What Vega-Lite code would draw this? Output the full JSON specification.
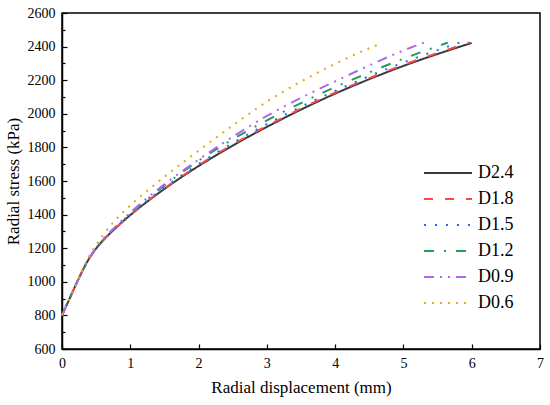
{
  "$schema": "https://vega.github.io/schema/vega-lite/v6.json",
  "width": 478,
  "height": 336,
  "autosize": {"type": "none"},
  "padding": {"left": 62, "top": 13, "right": 10, "bottom": 56},
  "background": "white",
  "config": {
    "view": {"stroke": "#000000", "strokeWidth": 1.5},
    "font": "Liberation Serif",
    "axis": {
      "grid": false,
      "domainColor": "#000000",
      "domainWidth": 1.5,
      "tickColor": "#000000",
      "tickWidth": 1.2,
      "labelFont": "Liberation Serif",
      "labelFontSize": 14,
      "labelColor": "#000000",
      "titleFont": "Liberation Serif",
      "titleFontSize": 17,
      "titleFontWeight": "normal",
      "titleColor": "#000000"
    }
  },
  "data": {
    "values": [
      {"s": "D2.4", "x": 0, "y": 800}, {"s": "D2.4", "x": 0.05, "y": 845}, {"s": "D2.4", "x": 0.1, "y": 890}, {"s": "D2.4", "x": 0.15, "y": 935}, {"s": "D2.4", "x": 0.2, "y": 980}, {"s": "D2.4", "x": 0.25, "y": 1024}, {"s": "D2.4", "x": 0.3, "y": 1066}, {"s": "D2.4", "x": 0.35, "y": 1105}, {"s": "D2.4", "x": 0.4, "y": 1140}, {"s": "D2.4", "x": 0.5, "y": 1198}, {"s": "D2.4", "x": 0.6, "y": 1246}, {"s": "D2.4", "x": 0.75, "y": 1306}, {"s": "D2.4", "x": 1, "y": 1397}, {"s": "D2.4", "x": 1.25, "y": 1478}, {"s": "D2.4", "x": 1.5, "y": 1553}, {"s": "D2.4", "x": 1.75, "y": 1623}, {"s": "D2.4", "x": 2, "y": 1689}, {"s": "D2.4", "x": 2.5, "y": 1811}, {"s": "D2.4", "x": 3, "y": 1922}, {"s": "D2.4", "x": 3.5, "y": 2025}, {"s": "D2.4", "x": 4, "y": 2120}, {"s": "D2.4", "x": 4.5, "y": 2206}, {"s": "D2.4", "x": 5, "y": 2285}, {"s": "D2.4", "x": 5.5, "y": 2356}, {"s": "D2.4", "x": 6, "y": 2422},

      {"s": "D1.8", "x": 0, "y": 800}, {"s": "D1.8", "x": 0.05, "y": 845}, {"s": "D1.8", "x": 0.1, "y": 890}, {"s": "D1.8", "x": 0.15, "y": 935}, {"s": "D1.8", "x": 0.2, "y": 980}, {"s": "D1.8", "x": 0.25, "y": 1024}, {"s": "D1.8", "x": 0.3, "y": 1066}, {"s": "D1.8", "x": 0.35, "y": 1105}, {"s": "D1.8", "x": 0.4, "y": 1140}, {"s": "D1.8", "x": 0.5, "y": 1198}, {"s": "D1.8", "x": 0.6, "y": 1246}, {"s": "D1.8", "x": 0.75, "y": 1306}, {"s": "D1.8", "x": 1, "y": 1398}, {"s": "D1.8", "x": 1.25, "y": 1480}, {"s": "D1.8", "x": 1.5, "y": 1556}, {"s": "D1.8", "x": 1.75, "y": 1627}, {"s": "D1.8", "x": 2, "y": 1694}, {"s": "D1.8", "x": 2.5, "y": 1817}, {"s": "D1.8", "x": 3, "y": 1928}, {"s": "D1.8", "x": 3.5, "y": 2031}, {"s": "D1.8", "x": 4, "y": 2126}, {"s": "D1.8", "x": 4.5, "y": 2212}, {"s": "D1.8", "x": 5, "y": 2291}, {"s": "D1.8", "x": 5.5, "y": 2362}, {"s": "D1.8", "x": 5.97, "y": 2425},

      {"s": "D1.5", "x": 0, "y": 800}, {"s": "D1.5", "x": 0.05, "y": 845}, {"s": "D1.5", "x": 0.1, "y": 890}, {"s": "D1.5", "x": 0.15, "y": 935}, {"s": "D1.5", "x": 0.2, "y": 980}, {"s": "D1.5", "x": 0.25, "y": 1024}, {"s": "D1.5", "x": 0.3, "y": 1066}, {"s": "D1.5", "x": 0.35, "y": 1105}, {"s": "D1.5", "x": 0.4, "y": 1141}, {"s": "D1.5", "x": 0.5, "y": 1200}, {"s": "D1.5", "x": 0.6, "y": 1248}, {"s": "D1.5", "x": 0.75, "y": 1309}, {"s": "D1.5", "x": 1, "y": 1402}, {"s": "D1.5", "x": 1.25, "y": 1484}, {"s": "D1.5", "x": 1.5, "y": 1561}, {"s": "D1.5", "x": 1.75, "y": 1633}, {"s": "D1.5", "x": 2, "y": 1701}, {"s": "D1.5", "x": 2.5, "y": 1826}, {"s": "D1.5", "x": 3, "y": 1939}, {"s": "D1.5", "x": 3.5, "y": 2042}, {"s": "D1.5", "x": 4, "y": 2136}, {"s": "D1.5", "x": 4.5, "y": 2224}, {"s": "D1.5", "x": 5, "y": 2305}, {"s": "D1.5", "x": 5.5, "y": 2379}, {"s": "D1.5", "x": 5.85, "y": 2428},

      {"s": "D1.2", "x": 0, "y": 800}, {"s": "D1.2", "x": 0.05, "y": 845}, {"s": "D1.2", "x": 0.1, "y": 890}, {"s": "D1.2", "x": 0.15, "y": 935}, {"s": "D1.2", "x": 0.2, "y": 980}, {"s": "D1.2", "x": 0.25, "y": 1024}, {"s": "D1.2", "x": 0.3, "y": 1066}, {"s": "D1.2", "x": 0.35, "y": 1106}, {"s": "D1.2", "x": 0.4, "y": 1141}, {"s": "D1.2", "x": 0.5, "y": 1201}, {"s": "D1.2", "x": 0.6, "y": 1250}, {"s": "D1.2", "x": 0.75, "y": 1311}, {"s": "D1.2", "x": 1, "y": 1405}, {"s": "D1.2", "x": 1.25, "y": 1492}, {"s": "D1.2", "x": 1.5, "y": 1573}, {"s": "D1.2", "x": 1.75, "y": 1649}, {"s": "D1.2", "x": 2, "y": 1721}, {"s": "D1.2", "x": 2.5, "y": 1848}, {"s": "D1.2", "x": 3, "y": 1961}, {"s": "D1.2", "x": 3.5, "y": 2064}, {"s": "D1.2", "x": 4, "y": 2159}, {"s": "D1.2", "x": 4.5, "y": 2246}, {"s": "D1.2", "x": 5, "y": 2328}, {"s": "D1.2", "x": 5.5, "y": 2402}, {"s": "D1.2", "x": 5.65, "y": 2424},

      {"s": "D0.9", "x": 0, "y": 800}, {"s": "D0.9", "x": 0.05, "y": 845}, {"s": "D0.9", "x": 0.1, "y": 890}, {"s": "D0.9", "x": 0.15, "y": 935}, {"s": "D0.9", "x": 0.2, "y": 980}, {"s": "D0.9", "x": 0.25, "y": 1024}, {"s": "D0.9", "x": 0.3, "y": 1067}, {"s": "D0.9", "x": 0.35, "y": 1107}, {"s": "D0.9", "x": 0.4, "y": 1142}, {"s": "D0.9", "x": 0.5, "y": 1203}, {"s": "D0.9", "x": 0.6, "y": 1253}, {"s": "D0.9", "x": 0.75, "y": 1315}, {"s": "D0.9", "x": 1, "y": 1412}, {"s": "D0.9", "x": 1.25, "y": 1500}, {"s": "D0.9", "x": 1.5, "y": 1581}, {"s": "D0.9", "x": 1.75, "y": 1656}, {"s": "D0.9", "x": 2, "y": 1727}, {"s": "D0.9", "x": 2.5, "y": 1863}, {"s": "D0.9", "x": 3, "y": 1987}, {"s": "D0.9", "x": 3.5, "y": 2095}, {"s": "D0.9", "x": 4, "y": 2193}, {"s": "D0.9", "x": 4.5, "y": 2288}, {"s": "D0.9", "x": 5, "y": 2377}, {"s": "D0.9", "x": 5.33, "y": 2428},

      {"s": "D0.6", "x": 0, "y": 800}, {"s": "D0.6", "x": 0.05, "y": 846}, {"s": "D0.6", "x": 0.1, "y": 892}, {"s": "D0.6", "x": 0.15, "y": 938}, {"s": "D0.6", "x": 0.2, "y": 983}, {"s": "D0.6", "x": 0.25, "y": 1028}, {"s": "D0.6", "x": 0.3, "y": 1072}, {"s": "D0.6", "x": 0.35, "y": 1114}, {"s": "D0.6", "x": 0.4, "y": 1153}, {"s": "D0.6", "x": 0.5, "y": 1220}, {"s": "D0.6", "x": 0.6, "y": 1278}, {"s": "D0.6", "x": 0.75, "y": 1352}, {"s": "D0.6", "x": 1, "y": 1455}, {"s": "D0.6", "x": 1.25, "y": 1542}, {"s": "D0.6", "x": 1.5, "y": 1625}, {"s": "D0.6", "x": 1.75, "y": 1704}, {"s": "D0.6", "x": 2, "y": 1780}, {"s": "D0.6", "x": 2.5, "y": 1930}, {"s": "D0.6", "x": 3, "y": 2072}, {"s": "D0.6", "x": 3.5, "y": 2192}, {"s": "D0.6", "x": 4, "y": 2297}, {"s": "D0.6", "x": 4.5, "y": 2390}, {"s": "D0.6", "x": 4.62, "y": 2410}
    ]
  },
  "mark": {"type": "line", "strokeWidth": 2, "interpolate": "monotone", "strokeCap": "butt"},
  "encoding": {
    "x": {
      "field": "x", "type": "quantitative",
      "scale": {"domain": [0, 7], "nice": false},
      "axis": {
        "title": "Radial displacement (mm)",
        "format": "d",
        "values": [0, 0.5, 1, 1.5, 2, 2.5, 3, 3.5, 4, 4.5, 5, 5.5, 6, 6.5, 7],
        "labelExpr": "datum.value % 1 == 0 ? datum.label : ''",
        "tickSize": {"condition": {"test": "datum.value % 1 != 0", "value": -3}, "value": -5},
        "labelPadding": 12,
        "titlePadding": 9,
        "labelFlush": false
      }
    },
    "y": {
      "field": "y", "type": "quantitative",
      "scale": {"domain": [600, 2600], "nice": false},
      "axis": {
        "title": "Radial stress (kPa)",
        "format": "d",
        "values": [600, 700, 800, 900, 1000, 1100, 1200, 1300, 1400, 1500, 1600, 1700, 1800, 1900, 2000, 2100, 2200, 2300, 2400, 2500, 2600],
        "labelExpr": "datum.value % 200 == 0 ? datum.label : ''",
        "tickSize": {"condition": {"test": "datum.value % 200 != 0", "value": -3}, "value": -5},
        "labelPadding": 12,
        "titlePadding": 5,
        "labelFlush": false
      }
    },
    "color": {
      "field": "s", "type": "nominal",
      "scale": {
        "domain": ["D2.4", "D1.8", "D1.5", "D1.2", "D0.9", "D0.6"],
        "range": ["#3a3a3a", "#ff4747", "#1f6fe6", "#1f9e55", "#b266f0", "#e6a817"]
      },
      "legend": {
        "title": null,
        "orient": "none",
        "legendX": 369,
        "legendY": 143,
        "symbolType": "M-1.5,0H1.5",
        "symbolSize": 1024,
        "symbolStrokeWidth": 2,
        "labelFont": "Liberation Serif",
        "labelFontSize": 18,
        "labelColor": "#000000",
        "labelOffset": 13,
        "rowPadding": 0
      }
    },
    "strokeDash": {
      "field": "s", "type": "nominal",
      "scale": {
        "domain": ["D2.4", "D1.8", "D1.5", "D1.2", "D0.9", "D0.6"],
        "range": [[1, 0], [9, 12], [2, 9], [10, 10, 2, 10], [10, 6, 2, 6, 2, 6], [2, 6]]
      }
    }
  }
}
